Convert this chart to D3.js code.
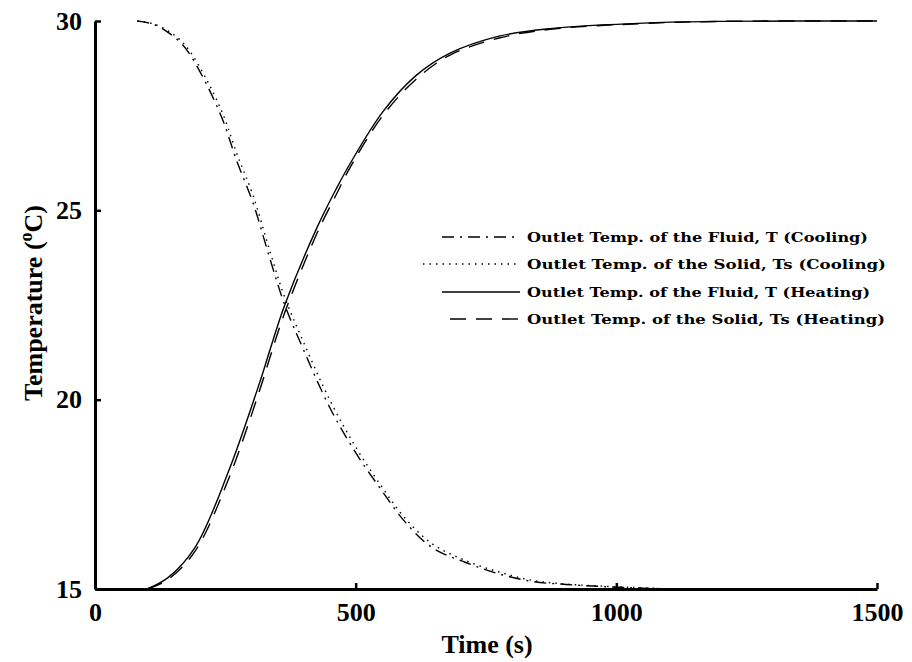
<!DOCTYPE html>
<html>
<head>
<meta charset="utf-8">
<script src="https://cdn.jsdelivr.net/npm/d3@7"></script>
<style>
  body { margin: 0; background: #fff; }
  text { font-family: "Liberation Serif", serif; font-weight: bold; fill: #000; }
</style>
</head>
<body>
<div id="chart"></div>
<script>
// cooling run (time in s, temperature in C)
const coolTime  = [81, 111, 140, 165, 182, 215, 246, 272, 303, 336, 364, 399, 450, 500, 550, 593, 646, 711, 775, 838, 904, 967, 1031, 1083];
const coolFluid = [30.0, 29.92, 29.7, 29.42, 29.12, 28.3, 27.35, 26.3, 25.2, 23.7, 22.5, 21.35, 19.8, 18.6, 17.6, 16.8, 16.1, 15.7, 15.4, 15.2, 15.12, 15.07, 15.03, 15.01];
const coolSolid = [30.0, 29.93, 29.74, 29.48, 29.2, 28.43, 27.52, 26.5, 25.4, 23.9, 22.7, 21.55, 20.0, 18.75, 17.7, 16.9, 16.2, 15.75, 15.45, 15.23, 15.13, 15.08, 15.04, 15.02];

// heating run
const heatTime  = [100, 140, 192, 256, 317, 333, 364, 426, 464, 490, 552, 615, 681, 775, 873, 1063, 1200, 1500];
const heatFluid = [15.0, 15.3, 16.1, 18.1, 20.5, 21.2, 22.5, 24.55, 25.6, 26.25, 27.6, 28.55, 29.15, 29.6, 29.8, 29.95, 29.99, 30.0];
const heatSolid = [15.0, 15.25, 16.0, 17.9, 20.3, 21.0, 22.3, 24.4, 25.45, 26.15, 27.5, 28.45, 29.1, 29.55, 29.78, 29.94, 29.99, 30.0];

const xTicks = [0, 500, 1000, 1500];
const yTicks = [15, 20, 25, 30];
const legendLabels = [
  "Outlet Temp. of the Fluid, T (Cooling)",
  "Outlet Temp. of the Solid, Ts (Cooling)",
  "Outlet Temp. of the Fluid, T (Heating)",
  "Outlet Temp. of the Solid, Ts (Heating)"
];

const width = 912, height = 662;
const svg = d3.select("#chart").append("svg")
  .attr("width", width).attr("height", height);

const x = d3.scaleLinear().domain([0, 1500]).range([95, 877]);
const y = d3.scaleLinear().domain([15, 30]).range([589, 21]);

// series styling
const series = [
  {t: coolTime, v: coolFluid, dash: "12,6,2,6", label: legendLabels[0]},
  {t: coolTime, v: coolSolid, dash: "1.5,5", label: legendLabels[1]},
  {t: heatTime, v: heatFluid, dash: null, label: legendLabels[2]},
  {t: heatTime, v: heatSolid, dash: "16,10", label: legendLabels[3]}
];

const line = d3.line()
  .x(d => x(d[0]))
  .y(d => y(d[1]))
  .curve(d3.curveCatmullRom.alpha(0.5));

svg.append("g").selectAll("path")
  .data(series)
  .join("path")
  .attr("d", s => line(d3.zip(s.t, s.v)))
  .attr("fill", "none")
  .attr("stroke", "#000")
  .attr("stroke-width", 1.4)
  .attr("stroke-dasharray", s => s.dash);

// axes (ticks point inward)
const yAxis = svg.append("g")
  .attr("transform", `translate(${x(0)},0)`)
  .call(d3.axisLeft(y).tickValues(yTicks).tickFormat(d3.format("d"))
    .tickSizeInner(-6).tickSizeOuter(0).tickPadding(13));
const xAxis = svg.append("g")
  .attr("transform", `translate(0,${y(15)})`)
  .call(d3.axisBottom(x).tickValues(xTicks).tickFormat(d3.format("d"))
    .tickSizeInner(-6).tickSizeOuter(0).tickPadding(14));

[xAxis, yAxis].forEach(a => {
  a.select(".domain").attr("stroke", "#000").attr("stroke-width", 3);
  a.selectAll(".tick line").attr("stroke", "#000").attr("stroke-width", 2.5);
  a.selectAll(".tick text")
    .style("font-family", "'Liberation Serif', serif")
    .style("font-weight", "bold")
    .style("font-size", "26px")
    .attr("fill", "#000");
});

// axis titles
svg.append("text")
  .attr("x", 487).attr("y", 653)
  .attr("text-anchor", "middle")
  .style("font-size", "26px")
  .text("Time (s)");

const yLab = svg.append("text")
  .attr("transform", "translate(42,303) rotate(-90)")
  .attr("text-anchor", "middle")
  .style("font-size", "26px");
yLab.append("tspan").text("Temperature (");
yLab.append("tspan").attr("dy", -10).style("font-size", "18px").text("o");
yLab.append("tspan").attr("dy", 10).text("C)");

// legend
const legendY = [237, 264, 292, 319];
const legendX0 = [442, 423, 442, 450];
const leg = svg.append("g").selectAll("g")
  .data(series)
  .join("g")
  .attr("transform", (d, i) => `translate(0,${legendY[i]})`);

leg.append("line")
  .attr("x1", (d, i) => legendX0[i]).attr("x2", 520)
  .attr("stroke", "#000")
  .attr("stroke-width", 1.4)
  .attr("stroke-dasharray", d => d.dash);

leg.append("text")
  .attr("x", 527).attr("y", 5)
  .style("font-family", "'DejaVu Serif', serif")
  .style("font-size", "13px")
  .attr("textLength", (d, i) => [341, 359, 343, 358][i])
  .attr("lengthAdjust", "spacingAndGlyphs")
  .text(d => d.label);
</script>
</body>
</html>
